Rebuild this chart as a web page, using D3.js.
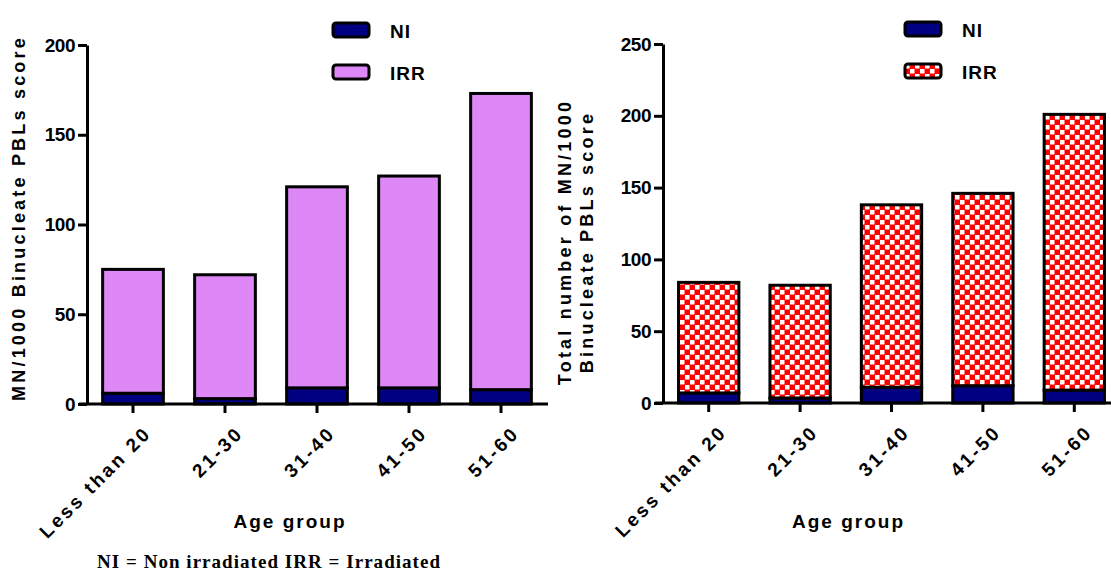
<!DOCTYPE html>
<html>
<head>
<meta charset="utf-8">
<script src="https://cdn.jsdelivr.net/npm/d3@7"></script>
<style>
  body { margin: 0; background: #fff; }
  svg { display: block; }
</style>
</head>
<body>
<div id="vis"></div>
<script>
const WIDTH = 1111;
const HEIGHT = 575;
const SANS = "'Liberation Sans', Arial, sans-serif";

// age groups on the x axis
const groups = ["Less than 20", "21-30", "31-40", "41-50", "51-60"];
const keys = ["NI", "IRR"];

// left panel (MN per 1000 binucleate cells)
const leftNI = [6, 3, 9, 9, 8];
const leftIRR = [69, 69, 112, 118, 165];
const leftTicks = [0, 50, 100, 150, 200];

// right panel (total number of MN)
const rightNI = [7, 3.5, 11, 12, 9];
const rightIRR = [77, 78.5, 127, 134, 192];
const rightTicks = [0, 50, 100, 150, 200, 250];

const svg = d3.select("#vis")
  .append("svg")
    .attr("width", WIDTH)
    .attr("height", HEIGHT)
    .style("font-family", SANS)
    .style("font-weight", "bold");

// red / white checker used for IRR on the right panel
const pat = svg.append("defs").append("pattern")
    .attr("id", "checker")
    .attr("patternUnits", "userSpaceOnUse")
    .attr("width", 10)
    .attr("height", 10);
pat.append("rect").attr("width", 10).attr("height", 10).attr("fill", "#ff0000");
pat.append("rect").attr("width", 4.5).attr("height", 4.5).attr("fill", "#fff");
pat.append("rect").attr("x", 5).attr("y", 5).attr("width", 4.5).attr("height", 4.5).attr("fill", "#fff");

function drawPanel(p) {
  const rows = groups.map((g, i) => ({group: g, NI: p.ni[i], IRR: p.irr[i]}));
  const series = d3.stack().keys(keys)(rows);

  const x = d3.scaleBand()
    .domain(groups)
    .range(p.xRange)
    .paddingInner(0.34)
    .paddingOuter(0.17);

  const y = d3.scaleLinear()
    .domain([0, p.ticks[p.ticks.length - 1]])
    .range(p.yRange);

  const g = svg.append("g");

  // bars
  g.selectAll(".series")
    .data(series)
    .join("g")
      .attr("fill", d => p.fills[d.key])
    .selectAll("rect")
    .data(d => d)
    .join("rect")
      .attr("x", d => x(d.data.group))
      .attr("y", d => y(d[1]))
      .attr("width", x.bandwidth())
      .attr("height", d => y(d[0]) - y(d[1]))
      .attr("stroke", "#000")
      .attr("stroke-width", 3);

  // y axis
  const yAxis = g.append("g")
    .attr("transform", `translate(${p.xRange[0]},0)`)
    .call(d3.axisLeft(y).tickValues(p.ticks).tickSize(9).tickSizeOuter(0).tickPadding(3));
  yAxis.select(".domain").attr("stroke-width", 3);
  yAxis.selectAll(".tick line").attr("stroke-width", 3);
  yAxis.selectAll(".tick text")
    .style("font-family", SANS)
    .style("font-weight", "bold")
    .style("font-size", "19px")
    .style("letter-spacing", "-0.5px")
    .attr("fill", "#000");

  // x axis
  const xAxis = g.append("g")
    .attr("transform", `translate(0,${p.yRange[0]})`)
    .call(d3.axisBottom(x).tickSize(9).tickSizeOuter(0).tickPadding(0));
  xAxis.select(".domain").attr("stroke-width", 3)
    .attr("d", `M${p.xRange[0] - 8},0H${p.xEnd}`);
  xAxis.selectAll(".tick line").attr("stroke-width", 3);
  xAxis.selectAll(".tick text")
    .style("font-family", SANS)
    .style("font-weight", "bold")
    .style("font-size", "19px")
    .style("letter-spacing", "2.8px")
    .attr("fill", "#000")
    .attr("text-anchor", "end")
    .attr("dy", null)
    .attr("transform", "translate(13,24) rotate(-45)");

  // axis titles
  g.append("text")
    .attr("x", (p.xRange[0] + p.xRange[1]) / 2 + p.xTitleShift)
    .attr("y", 528)
    .attr("text-anchor", "middle")
    .style("font-size", "19px")
    .style("letter-spacing", "2px")
    .text("Age group");

  p.yTitle.forEach((line, i) => {
    g.append("text")
      .attr("transform", `translate(${p.yTitleX[i]},${p.yTitleY}) rotate(-90)`)
      .attr("text-anchor", "middle")
      .style("font-size", "18px")
      .style("letter-spacing", "3.2px")
      .text(line);
  });

  // legend
  const leg = g.append("g").selectAll("g")
    .data(keys)
    .join("g")
      .attr("transform", (d, i) => `translate(${p.legend[0]},${p.legend[1] + i * 42})`);
  leg.append("rect")
    .attr("width", 36)
    .attr("height", 14)
    .attr("rx", 3)
    .attr("fill", d => p.fills[d])
    .attr("stroke", "#000")
    .attr("stroke-width", 3);
  leg.append("text")
    .attr("x", 57)
    .attr("y", 15)
    .style("font-size", "19px")
    .style("letter-spacing", "1px")
    .text(d => d);
}

drawPanel({
  ni: leftNI, irr: leftIRR, ticks: leftTicks,
  xRange: [87, 547], xEnd: 548, yRange: [404, 45],
  fills: {NI: "#000080", IRR: "#dd88f6"},
  yTitle: ["MN/1000 Binucleate PBLs score"], yTitleX: [25], yTitleY: 218,
  xTitleShift: -27,
  legend: [333, 23]
});

drawPanel({
  ni: rightNI, irr: rightIRR, ticks: rightTicks,
  xRange: [663, 1120], xEnd: 1111, yRange: [403, 44],
  fills: {NI: "#000080", IRR: "url(#checker)"},
  yTitle: ["Total number of MN/1000", "Binucleate PBLs score"], yTitleX: [571, 593], yTitleY: 242,
  xTitleShift: -43,
  legend: [905, 22]
});

// footnote
svg.append("text")
  .attr("x", 97)
  .attr("y", 568)
  .attr("textLength", 343)
  .attr("lengthAdjust", "spacing")
  .style("font-family", "'Liberation Serif', 'Times New Roman', serif")
  .style("font-weight", "bold")
  .style("font-size", "19px")
  .text("NI = Non irradiated  IRR = Irradiated");
</script>
</body>
</html>
